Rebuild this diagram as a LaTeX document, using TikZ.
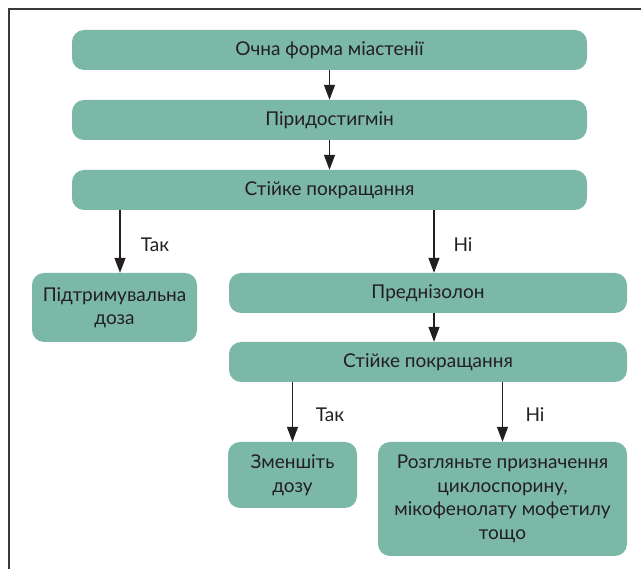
\documentclass[tikz,border=0pt]{standalone}
\usepackage{fontspec}
\setmainfont{Lato}
\usepackage{xcolor}
\usetikzlibrary{arrows.meta}

\definecolor{verde}{HTML}{7BB8A8}
\definecolor{texto}{HTML}{231F20}
\definecolor{marco}{HTML}{3A3A3A}

\begin{document}
\begin{tikzpicture}[x=1pt,y=-1pt,
    caja/.style={rectangle, rounded corners=12pt, fill=verde, text=texto,
        align=center, inner sep=0pt, font=\fontsize{19}{23.5}\selectfont},
    flecha/.style={draw=texto, line width=1.4pt, -{Triangle[length=15pt,width=11pt]}},
    etiq/.style={text=texto, font=\fontsize{19}{23.5}\selectfont}]

    \useasboundingbox (0,0) rectangle (641,569);

    % marco
    \draw[marco, line width=1.5pt] (641,9) -- (9,9) -- (9,569);

    % cajas de arriba
    \node[caja, minimum width=515pt, minimum height=40pt] (ocna) at (329.5,50) {Очна форма міастенії};
    \node[caja, minimum width=515pt, minimum height=40pt] (pirid) at (329.5,120) {Піридостигмін};
    \node[caja, minimum width=515pt, minimum height=40pt] (stijke1) at (329.5,190) {Стійке покращання};

    % rama izquierda
    \node[caja, minimum width=165pt, minimum height=69pt] (pidtr) at (114.5,307.5) {Підтримувальна\\доза};

    % rama derecha
    \node[caja, minimum width=398pt, minimum height=40pt] (predn) at (428,293) {Преднізолон};
    \node[caja, minimum width=398pt, minimum height=40pt] (stijke2) at (428,362) {Стійке покращання};

    % cajas de abajo
    \node[caja, minimum width=129pt, minimum height=66pt] (zmen) at (292.5,475) {Зменшіть\\дозу};
    \node[caja, minimum width=249pt, minimum height=114pt] (rozgl) at (502.5,499) {Розгляньте призначення\\циклоспорину,\\мікофенолату мофетилу\\тощо};

    % flechas
    \coordinate (tak1) at ([xshift=5.5pt]pidtr.north);
    \coordinate (ni1) at ([xshift=6pt]predn.north);
    \draw[flecha] (ocna) -- (pirid);
    \draw[flecha] (pirid) -- (stijke1);
    \draw[flecha] (stijke1.south -| tak1) -- (tak1);
    \draw[flecha] (stijke1.south -| ni1) -- (ni1);
    \draw[flecha] (predn.south -| ni1) -- (stijke2.north -| ni1);
    \draw[flecha] (stijke2.south -| zmen.north) -- (zmen.north);
    \draw[flecha] (stijke2.south -| rozgl.north) -- (rozgl.north);

    % leyendas
    \node[etiq] (tak1lbl) at (155,245) {Так};
    \node[etiq] (ni1lbl) at (463,245) {Ні};
    \node[etiq] (tak2lbl) at (330,415) {Так};
    \node[etiq] (ni2lbl) at (535,415) {Ні};

\end{tikzpicture}
\end{document}
